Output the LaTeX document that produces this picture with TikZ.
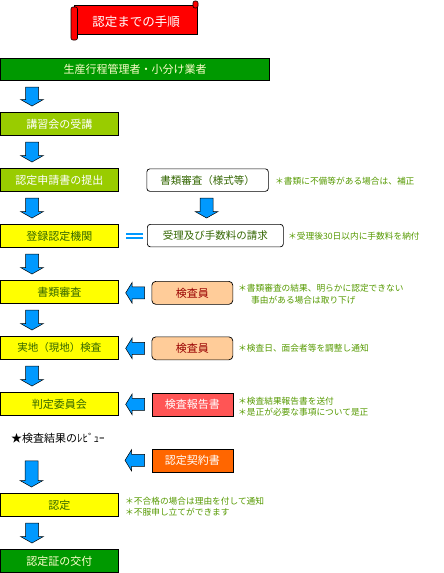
\documentclass[tikz,border=0pt]{standalone}
\usepackage{fontspec}
\setmainfont{Noto Sans CJK JP}
\usetikzlibrary{calc}
\definecolor{arrblue}{HTML}{0099FF}
\definecolor{hdrgreen}{HTML}{009900}
\definecolor{ygreen}{HTML}{99CC00}
\definecolor{boxyellow}{HTML}{FFFF00}
\definecolor{peach}{HTML}{FFCC99}
\definecolor{repred}{HTML}{FF5555}
\definecolor{keiorange}{HTML}{FF6600}
\definecolor{titlered}{HTML}{FF0000}
\definecolor{olivetext}{HTML}{336600}
\definecolor{notetext}{HTML}{559900}
\definecolor{paleyellow}{HTML}{FFFFCC}
\definecolor{darkred}{HTML}{990000}
\begin{document}
\begin{tikzpicture}[x=1pt,y=-1pt,
  box/.style={draw=black, line width=0.7pt, minimum width=117pt, minimum height=23pt,
    anchor=north west, inner sep=0pt, font=\fontsize{11}{13}\selectfont},
  stepyellow/.style={box, fill=boxyellow, text=olivetext},
  stepygreen/.style={box, fill=ygreen, text=white},
  stepgreen/.style={box, fill=hdrgreen, text=paleyellow},
  wbox/.style={box, fill=white, text=olivetext, rounded corners=3pt, minimum height=22.5pt,
    font=\fontsize{10.5}{12}\selectfont},
  pbox/.style={box, minimum width=81pt, rounded corners=4pt, fill=peach, text=darkred},
  rbox/.style={box, minimum width=81pt, text=white},
  note/.style={anchor=west, inner sep=0pt, text=notetext, font=\fontsize{8.7}{10}\selectfont},
  blockdown/.style={fill=arrblue, draw=black, line width=0.5pt, to path={
    let \p1=(\tikztostart), \p2=(\tikztotarget) in
    (\x1-6.5pt,\y1-6.5pt) -- (\x1+6.5pt,\y1-6.5pt) -- (\x1+6.5pt,\y2+12.5pt)
    -- (\x1+11.5pt,\y2+12.5pt) -- (\x1,\y2+6pt) -- (\x1-11.5pt,\y2+12.5pt)
    -- (\x1-6.5pt,\y2+12.5pt) -- cycle}},
  blockleft/.style={fill=arrblue, draw=black, line width=0.5pt, to path={
    let \p1=(\tikztostart), \p2=(\tikztotarget) in
    (\x1-7pt,\y1+6pt) -- (\x2+14pt,\y1+6pt) -- (\x2+14pt,\y1+10.5pt)
    -- (\x2+7.5pt,\y1) -- (\x2+14pt,\y1-10.5pt) -- (\x2+14pt,\y1-6pt)
    -- (\x1-7pt,\y1-6pt) -- cycle}},
  dblline/.style={draw=arrblue, line width=2pt, to path={
    let \p1=(\tikztostart), \p2=(\tikztotarget) in
    (\x1-4pt,\y1+2pt) -- (\x2+7.5pt,\y1+2pt)
    (\x1-4pt,\y1-2pt) -- (\x2+7.5pt,\y1-2pt)}}
]
\useasboundingbox (0,0) rectangle (444,573);

% title scroll
\fill[titlered, draw=black, line width=0.6pt] (74,5) rectangle (197,34);
\fill[titlered, draw=black, line width=0.6pt, rounded corners=2pt] (193,1) rectangle (198,8);
\fill[titlered, draw=black, line width=0.6pt, rounded corners=2pt] (71,7) rectangle (77.5,40);
\node[inner sep=0pt, text=white, font=\fontsize{12.5}{14}\selectfont] (title) at (136,22) {認定までの手順};

% header bar
\node[stepgreen, minimum width=268.5pt, minimum height=22.5pt, font=\fontsize{11}{13}\selectfont] (hdr) at (0.5,57.5) {生産行程管理者・小分け業者};

% left column
\node[stepygreen] (kosyu) at (0.5,112) {講習会の受講};
\node[stepygreen] (shinsei) at (0.5,168) {認定申請書の提出};
\node[stepyellow] (touroku) at (0.5,224) {登録認定機関};
\node[stepyellow] (shorui) at (0.5,280) {書類審査};
\node[stepyellow, font=\fontsize{10.5}{12}\selectfont] (jitchi) at (0.5,336) {実地（現地）検査};
\node[stepyellow] (hantei) at (0.5,392) {判定委員会};
\node[anchor=west, inner sep=0pt, font=\fontsize{11}{13}\selectfont] (review) at (11,438) {★検査結果のﾚﾋﾞｭｰ};
\node[stepyellow] (nintei) at (0.5,493) {認定};
\node[stepgreen] (kofu) at (0.5,549) {認定証の交付};

% right column
\node[wbox, minimum width=121.5pt] (yoshiki) at (146.5,168.5) {書類審査（様式等）};
\node[wbox, minimum width=136pt] (juri) at (147,224) {受理及び手数料の請求};
\node[pbox] (kensa1) at (151.5,281) {検査員};
\node[pbox] (kensa2) at (151.5,336.5) {検査員};
\node[rbox, fill=repred] (houkoku) at (151.5,392.5) {検査報告書};
\node[rbox, fill=keiorange] (keiyaku) at (151.5,448.5) {認定契約書};
\coordinate (keiyakutip) at (117.5,460);

% notes
\node[note] (n1) at (275,181) {＊書類に不備等がある場合は、補正};
\node[note] (n2) at (288,236) {＊受理後30日以内に手数料を納付};
\node[note] (n3a) at (238,288) {＊書類審査の結果、明らかに認定できない};
\node[note] (n3b) at (251,300) {事由がある場合は取り下げ};
\node[note] (n4) at (238,348) {＊検査日、面会者等を調整し通知};
\node[note] (n5a) at (238,401) {＊検査結果報告書を送付};
\node[note] (n5b) at (238,412) {＊是正が必要な事項について是正};
\node[note] (n6a) at (125,501) {＊不合格の場合は理由を付して通知};
\node[note] (n6b) at (125,512) {＊不服申し立てができます};

% down arrows
\draw[blockdown] ($(hdr.south west)+(31.5,0)$) to ($(kosyu.north west)+(31.5,0)$);
\draw[blockdown] ($(kosyu.south west)+(31.5,0)$) to ($(shinsei.north west)+(31.5,0)$);
\draw[blockdown] ($(shinsei.south west)+(31.5,0)$) to ($(touroku.north west)+(31.5,0)$);
\draw[blockdown] ($(touroku.south west)+(31.5,0)$) to ($(shorui.north west)+(31.5,0)$);
\draw[blockdown] ($(shorui.south west)+(31.5,0)$) to ($(jitchi.north west)+(31.5,0)$);
\draw[blockdown] ($(jitchi.south west)+(31.5,0)$) to ($(hantei.north west)+(31.5,0)$);
\draw[blockdown] ($(review.south west)+(20.5,11)$) to ($(nintei.north west)+(31.5,0)$);
\draw[blockdown] ($(nintei.south west)+(31.5,0)$) to ($(kofu.north west)+(31.5,0)$);
\draw[blockdown] ($(yoshiki.south)+(-1,0)$) to ($(yoshiki.south |- juri.north)+(-1,0)$);

% left arrows
\draw[blockleft] (kensa1.west) to (kensa1.west -| shorui.east);
\draw[blockleft] (kensa2.west) to (kensa2.west -| jitchi.east);
\draw[blockleft] (houkoku.west) to (houkoku.west -| hantei.east);
\draw[blockleft] (keiyaku.west) to (keiyakutip);

% equals
\draw[dblline] (juri.west) to (touroku.east);
\end{tikzpicture}
\end{document}
